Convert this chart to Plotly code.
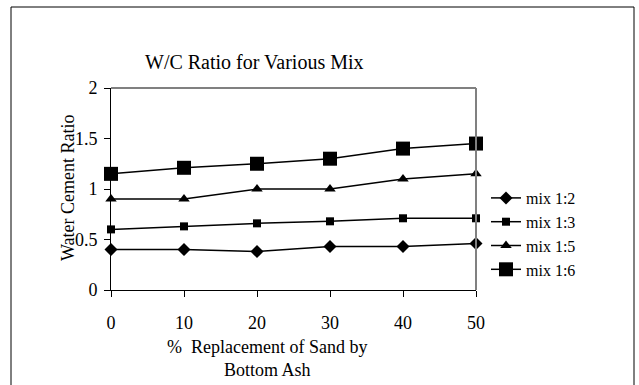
import plotly.graph_objects as go

# Percentage of sand replaced by bottom ash
replacement = [0, 10, 20, 30, 40, 50]

# Water/cement ratio per mix
mix_1_2 = [0.40, 0.40, 0.38, 0.43, 0.43, 0.46]
mix_1_3 = [0.60, 0.63, 0.66, 0.68, 0.71, 0.71]
mix_1_5 = [0.90, 0.90, 1.00, 1.00, 1.10, 1.15]
mix_1_6 = [1.15, 1.21, 1.25, 1.30, 1.40, 1.45]

series = [
    ("mix 1:2", mix_1_2, "diamond", 10),
    ("mix 1:3", mix_1_3, "square", 8),
    ("mix 1:5", mix_1_5, "triangle-up", 10),
    ("mix 1:6", mix_1_6, "square", 14),
]

FONT = "Liberation Serif"

# Plot-area geometry in pixels
W, H = 639, 385
L, R, T, B = 111, 476, 88, 290


def px(x):
    return (x - L) / (R - L)


def py(y):
    return (B - y) / (B - T)


fig = go.Figure()
for name, vals, sym, size in series:
    fig.add_trace(go.Scatter(
        x=replacement, y=vals, name=name, mode="lines+markers",
        line=dict(color="black", width=1.5),
        marker=dict(symbol=sym, size=size, color="black"),
        cliponaxis=False,
    ))

fig.update_layout(
    width=W, height=H,
    margin=dict(l=L, r=W - R, t=T, b=H - B, pad=0),
    paper_bgcolor="white", plot_bgcolor="white",
    font=dict(family=FONT, size=18, color="black"),
    showlegend=True,
    legend=dict(
        x=px(486), y=py(181), xanchor="left", yanchor="top",
        font=dict(family=FONT, size=16, color="black"),
        bgcolor="rgba(0,0,0,0)", tracegroupgap=0,
        itemwidth=30,
    ),
    xaxis=dict(
        range=[0, 50], tickvals=replacement, ticktext=[str(v) for v in replacement],
        showgrid=False, zeroline=False, showline=True, linecolor="black", linewidth=1,
        ticks="outside", ticklen=6, tickcolor="black",
        tickfont=dict(family=FONT, size=18),
        ticklabelstandoff=10,
    ),
    yaxis=dict(
        range=[0, 2], dtick=0.5, showgrid=False, zeroline=False,
        showline=True, linecolor="black", linewidth=1,
        ticks="outside", ticklen=6, tickcolor="black",
        tickfont=dict(family=FONT, size=18),
        ticklabelstandoff=3,
    ),
    shapes=[
        # outer chart frame
        dict(type="rect", xref="paper", yref="paper",
             x0=px(11), x1=px(634), y0=py(400), y1=py(7),
             line=dict(color="black", width=1), fillcolor="rgba(0,0,0,0)", layer="below"),
        # plot-area border, top and right
        dict(type="line", xref="paper", yref="paper", x0=0, x1=1, y0=1, y1=1,
             line=dict(color="#808080", width=2)),
        dict(type="line", xref="paper", yref="paper", x0=1, x1=1, y0=0, y1=1,
             line=dict(color="#808080", width=2)),
    ],
    annotations=[
        dict(text="W/C Ratio for Various Mix", xref="paper", yref="paper",
             x=px(254), y=py(62), xanchor="center", yanchor="middle",
             showarrow=False, font=dict(family=FONT, size=20)),
        dict(text="Water Cement Ratio", xref="paper", yref="paper",
             x=px(68), y=py(188), xanchor="center", yanchor="middle",
             textangle=-90, showarrow=False, font=dict(family=FONT, size=18)),
        dict(text="%  Replacement of Sand by<br>Bottom Ash", xref="paper", yref="paper",
             x=px(267), y=py(358), xanchor="center", yanchor="middle",
             showarrow=False, font=dict(family=FONT, size=18)),
    ],
)

fig.write_html("out.html")
